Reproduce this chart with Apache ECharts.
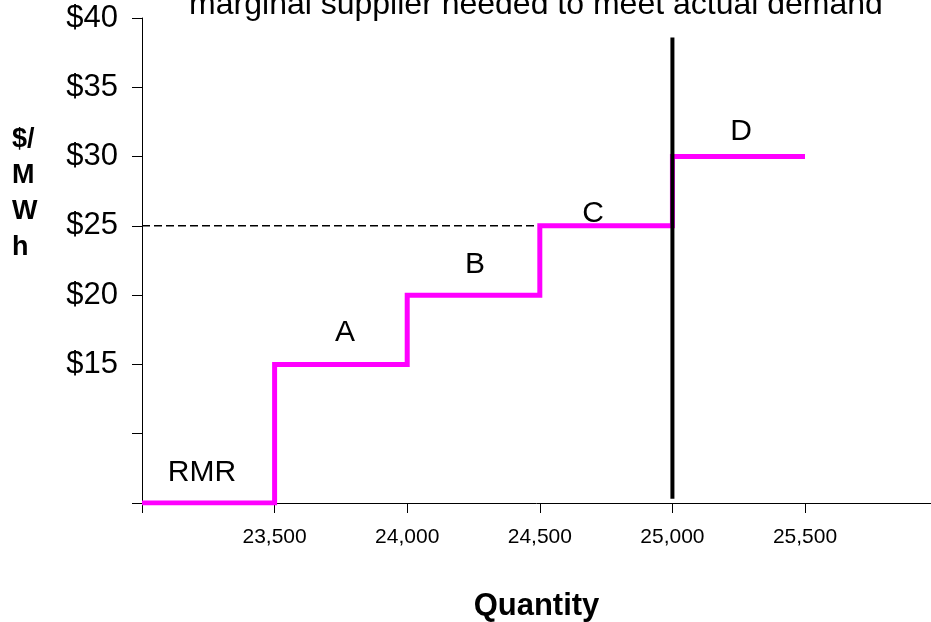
<!DOCTYPE html>
<html>
<head>
<meta charset="utf-8">
<script src="https://cdn.jsdelivr.net/npm/echarts@6/dist/echarts.min.js"></script>
<style>html,body{margin:0;padding:0;background:#fff}#c{width:931px;height:622px}</style>
</head>
<body>
<div id="c"></div>
<script>
// Supply stack blocks
var blockNames = ['RMR', 'A', 'B', 'C', 'D'];
var blockStart = [23000, 23500, 24000, 24500, 25000];
var blockEnd = [23500, 24000, 24500, 25000, 25500];
var blockPrice = [5, 15, 20, 25, 30];
// Block label anchor points (data units)
var labelX = [23226, 23765, 24256, 24701, 25259];
var labelY = [7.2, 17.3, 22.2, 25.9, 31.8];
// Actual demand and market clearing price
var demandQty = 25000;
var demandLineLow = 5.3;
var demandLineHigh = 38.6;
var clearingPrice = 25;
// Tick labels
var xTickLabels = [23500, 24000, 24500, 25000, 25500];
var yTickLabels = [15, 20, 25, 30, 35, 40];

var stepData = [];
for (var i = 0; i < blockNames.length; i++) {
  stepData.push([blockStart[i], blockPrice[i]]);
  stepData.push([blockEnd[i], blockPrice[i]]);
}
var labelData = blockNames.map(function (n, i) { return { value: [labelX[i], labelY[i]], name: n }; });

var chart = echarts.init(document.getElementById('c'));
chart.setOption({
  animation: false,
  backgroundColor: '#ffffff',
  title: {
    text: 'marginal supplier needed to meet actual demand',
    left: 531, top: -16, textAlign: 'center',
    textStyle: { fontFamily: 'Arial, Liberation Sans', fontSize: 32, fontWeight: 'normal', color: '#000' }
  },
  grid: { left: 142, right: 0, top: 18, bottom: 119, containLabel: false, outerBoundsMode: 'none' },
  xAxis: {
    type: 'value', min: 23000, max: 25975, interval: 500,
    name: 'Quantity', nameLocation: 'middle', nameGap: 88,
    nameTextStyle: { fontFamily: 'Arial, Liberation Sans', fontSize: 31, fontWeight: 'bold', color: '#000' },
    axisLine: { show: true, onZero: false, lineStyle: { color: '#000', width: 1 } },
    axisTick: { show: true, length: 10, lineStyle: { color: '#000' } },
    splitLine: { show: false },
    axisLabel: {
      margin: 24, fontFamily: 'Arial, Liberation Sans', fontSize: 21, color: '#000',
      showMaxLabel: false,
      formatter: function (v) { return xTickLabels.indexOf(v) >= 0 ? v.toLocaleString('en-US') : ''; }
    }
  },
  yAxis: {
    type: 'value', min: 5, max: 40, interval: 5,
    axisLine: { show: true, onZero: false, lineStyle: { color: '#000', width: 1 } },
    axisTick: { show: true, length: 10, lineStyle: { color: '#000' } },
    splitLine: { show: false },
    axisLabel: {
      margin: 24, fontFamily: 'Arial, Liberation Sans', fontSize: 31, color: '#000',
      formatter: function (v) { return yTickLabels.indexOf(v) >= 0 ? '$' + v : ''; }
    }
  },
  graphic: [{
    type: 'text', left: 12, top: 122,
    style: {
      text: '$/\nM\nW\nh', font: 'bold 27px Arial, Liberation Sans', fill: '#000', lineHeight: 36
    }
  }],
  series: [
    {
      type: 'line', data: [[blockStart[0], clearingPrice], [demandQty, clearingPrice]],
      symbol: 'none', silent: true, z: 2,
      lineStyle: { color: '#000', width: 1.5, type: [8, 4] }
    },
    {
      type: 'line', data: stepData, symbol: 'none', silent: true, z: 3,
      lineStyle: { color: '#ff00ff', width: 5, join: 'miter', cap: 'butt' }
    },
    {
      type: 'line', data: [[demandQty, demandLineLow], [demandQty, demandLineHigh]],
      symbol: 'none', silent: true, z: 4,
      lineStyle: { color: '#000', width: 4 }
    },
    {
      type: 'scatter', data: labelData, symbolSize: 0, silent: true, z: 5,
      itemStyle: { opacity: 1, color: '#000' },
      label: {
        show: true, position: 'inside', formatter: '{b}', opacity: 1,
        fontFamily: 'Arial, Liberation Sans', fontSize: 30, color: '#000'
      }
    }
  ]
});
</script>
</body>
</html>
